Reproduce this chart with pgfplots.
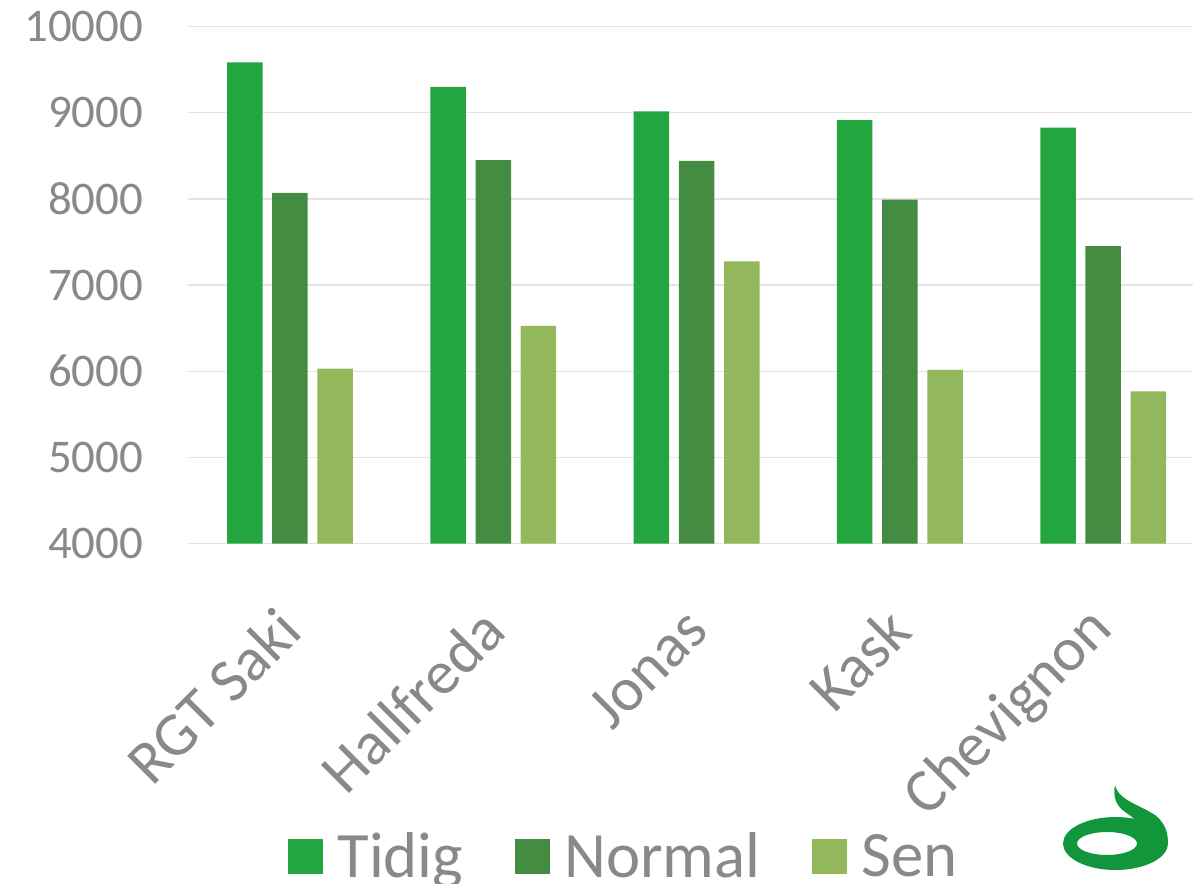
\documentclass[border=0pt]{standalone}
\usepackage{fontspec}
\setmainfont{Carlito}
\usepackage{pgfplots}
\pgfplotsset{compat=1.18}
\definecolor{tidig}{RGB}{35,166,64}
\definecolor{normal}{RGB}{67,140,66}
\definecolor{sen}{RGB}{147,183,91}
\definecolor{txt}{RGB}{137,137,137}
\definecolor{gridc}{RGB}{228,228,228}
\definecolor{logo}{RGB}{18,150,60}
\begin{document}
\begin{tikzpicture}[x=1bp,y=1bp]
\begin{axis}[
  at={(188.3bp,-543.7bp)}, anchor=south west,
  scale only axis, width=1016.6bp, height=517.2bp,
  xmin=-0.5, xmax=4.5, ymin=4000, ymax=10000,
  ytick={4000,5000,...,10000},
  scaled y ticks=false,
  xtick={0,1,2,3,4},
  xticklabels={RGT Saki,Hallfreda,Jonas,Kask,Chevignon},
  axis line style={draw=none},
  tick style={draw=none}, major tick length=0pt,
  ymajorgrids, grid style={gridc, line width=1.4bp},
  /pgf/number format/assume math mode=true,
  /pgf/number format/fixed,
  /pgf/number format/set thousands separator={},
  yticklabel style={font=\fontsize{47}{56}\selectfont, text=txt, inner sep=0pt, anchor=east, xshift=-45bp},
  xticklabel style={font=\fontsize{62}{74}\selectfont, text=txt, inner sep=0pt, anchor=east, rotate=45},
  xticklabel shift=76bp,
  ybar, bar width=35.5bp,
  legend columns=3,
  legend style={draw=none, fill=none, at={(0.098,-0.604)}, anchor=west, inner sep=0pt,
    font=\fontsize{65}{78}\selectfont, text=txt,
    /tikz/every even column/.append style={column sep=37bp},
    nodes={inner xsep=14.5bp}},
  legend image code/.code={\fill[#1] (0bp,-17.5bp) rectangle (35bp,17.5bp);},
]
\addplot[fill=tidig, draw=none, bar shift=-45.2bp] coordinates {(0,9585) (1,9300) (2,9016) (3,8915) (4,8826)};
\addplot[fill=normal, draw=none, bar shift=0bp] coordinates {(0,8070) (1,8449) (2,8440) (3,7992) (4,7451)};
\addplot[fill=sen, draw=none, bar shift=45.2bp] coordinates {(0,6031) (1,6527) (2,7274) (3,6016) (4,5768)};
\legend{Tidig,Normal,Sen}
\end{axis}
% decorative logo
\fill[logo, even odd rule] (1115.5,-843.5) ellipse [x radius=52.5, y radius=26.5]
  (1107,-843.5) ellipse [x radius=30, y radius=11.5];
\fill[logo] (1115,-785) .. controls (1118,-800) and (1140,-805) .. (1155,-815)
  .. controls (1168,-825) and (1170,-840) .. (1166,-850) -- (1150,-850)
  .. controls (1152,-835) and (1140,-822) .. (1125,-812)
  .. controls (1115,-805) and (1113,-795) .. (1115,-785) -- cycle;
\pgfresetboundingbox
\path (0,0) rectangle (1193,-884);
\end{tikzpicture}
\end{document}
